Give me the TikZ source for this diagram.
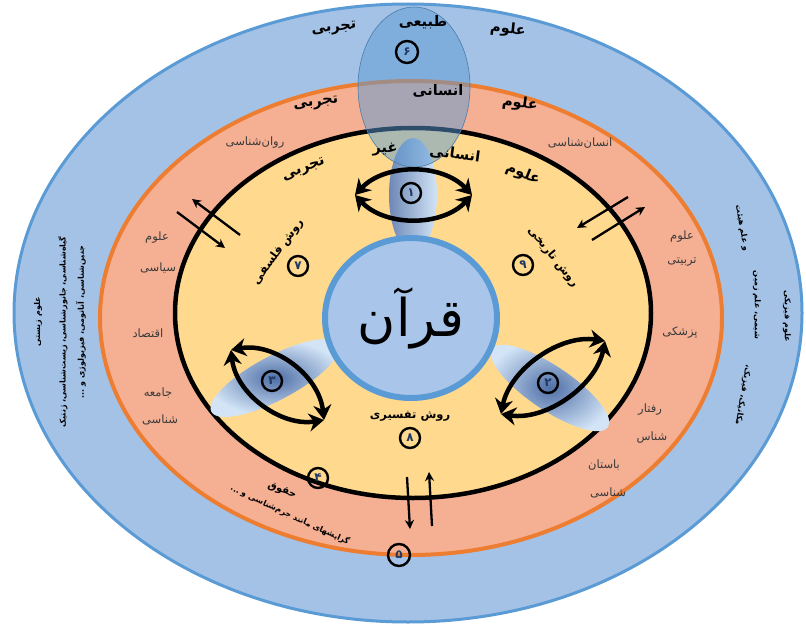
\documentclass[tikz,border=0pt]{standalone}
\usepackage{fontspec}
\usetikzlibrary{arrows.meta,shapes.geometric}
\TeXXeTstate=1
\newfontfamily\fa[Script=Arabic]{DejaVu Sans}
\newcommand{\fatext}[1]{\beginR#1\endR}
\definecolor{outerblue}{HTML}{A4C2E6}
\definecolor{lineblue}{HTML}{5B9BD5}
\definecolor{salmon}{HTML}{F5B094}
\definecolor{orangeline}{HTML}{ED7D31}
\definecolor{yellowfill}{HTML}{FFD98E}
\definecolor{quranfill}{HTML}{A9C6EA}
\definecolor{gdark}{HTML}{2F5597}
\definecolor{glight}{HTML}{D2E4F6}
\definecolor{numblue}{HTML}{203864}
\definecolor{labelgray}{HTML}{3A3A3A}
\begin{document}
\begin{tikzpicture}[x=1pt,y=-1pt,
  titlef/.style={font=\fa\bfseries\fontsize{14.5}{17}\selectfont, inner sep=0pt},
  methodf/.style={font=\fa\bfseries\fontsize{11.5}{14}\selectfont, inner sep=0pt},
  labelf/.style={font=\fa\fontsize{11.5}{14}\selectfont, text=labelgray, inner sep=0pt},
  sidef/.style={font=\fa\bfseries\fontsize{8}{9.5}\selectfont, inner sep=0pt},
  num/.style={circle, draw=black, line width=2.4pt, minimum size=20pt, inner sep=0pt, font=\fa\bfseries\fontsize{12}{14}\selectfont, text=numblue},
  eyearrow/.style={line width=4.5pt, arrows={Stealth[length=15pt,width=18pt]-Stealth[length=15pt,width=18pt]}},
  smallarrow/.style={line width=2.3pt, arrows={-Stealth[length=9pt,width=9pt]}}]
\useasboundingbox (0,0) rectangle (806,626);
\fill[white] (0,0) rectangle (806,626);

% rings
\draw[fill=outerblue, draw=lineblue, line width=3pt] (408,313) ellipse [x radius=394pt, y radius=309pt];
\draw[fill=salmon, draw=orangeline, line width=4pt] (411,318) ellipse [x radius=311pt, y radius=237pt];
\draw[fill=yellowfill, draw=black, line width=4.5pt] (413,313) ellipse [x radius=238pt, y radius=185pt];

% gradient lenses
\shade[left color=gdark!70, right color=glight] (413,195) ellipse [x radius=24pt, y radius=57pt];
\shade[inner color=gdark!85, outer color=glight, rotate around={28:(275,378)}] (275,378) ellipse [x radius=72pt, y radius=22pt];
\shade[inner color=gdark!85, outer color=glight, rotate around={-34:(550,388)}] (550,388) ellipse [x radius=70pt, y radius=22pt];

% Quran circle
\draw[fill=quranfill, draw=lineblue, line width=6pt] (411,318) ellipse [x radius=86pt, y radius=80pt];
\node[font=\fa\fontsize{52}{60}\selectfont, inner sep=0pt] (quran) at (411,318) {\fatext{قرآن}};

% translucent top lens
\draw[fill=lineblue, fill opacity=0.5, draw=lineblue!80!black, line width=0.6pt] (414,87) ellipse [x radius=56pt, y radius=80pt];

% eye arrows 1
\coordinate (e1a) at (355,195);
\coordinate (e1b) at (472,195);
\draw[eyearrow] (e1a) .. controls (385,163) and (442,163) .. (e1b);
\draw[eyearrow] (e1a) .. controls (385,227) and (442,227) .. (e1b);
% eye arrows 3
\coordinate (e3a) at (231,350);
\coordinate (e3b) at (324,420);
\draw[eyearrow] (e3a) .. controls (236,394) and (281,427) .. (e3b);
\draw[eyearrow] (e3a) .. controls (274,342) and (319,375) .. (e3b);
% eye arrows 2
\coordinate (e2a) at (605,341);
\coordinate (e2b) at (501,414);
\draw[eyearrow] (e2a) .. controls (596,386) and (546,421) .. (e2b);
\draw[eyearrow] (e2a) .. controls (560,334) and (510,369) .. (e2b);

% small crossing arrows
\coordinate (ula1) at (240,235); \coordinate (ula2) at (192,199);
\coordinate (ulb1) at (177,212); \coordinate (ulb2) at (225,248);
\draw[smallarrow] (ula1) -- (ula2);
\draw[smallarrow] (ulb1) -- (ulb2);
\coordinate (ura1) at (592,240); \coordinate (ura2) at (645,207);
\coordinate (urb1) at (628,197); \coordinate (urb2) at (577,228);
\draw[smallarrow] (ura1) -- (ura2);
\draw[smallarrow] (urb1) -- (urb2);
\coordinate (bda1) at (407,477); \coordinate (bda2) at (410,529);
\coordinate (bdb1) at (432,526); \coordinate (bdb2) at (429,472);
\draw[smallarrow] (bda1) -- (bda2);
\draw[smallarrow] (bdb1) -- (bdb2);

% number circles
\node[num, minimum size=22pt] (n6) at (407,52) {۶};
\node[num] (n1) at (411,193) {۱};
\node[num] (n2) at (548,383) {۲};
\node[num] (n3) at (272,381) {۳};
\node[num] (n4) at (318,478) {۴};
\node[num, minimum size=22pt] (n5) at (399,555) {۵};
\node[num] (n7) at (298,266) {۷};
\node[num] (n8) at (410,438) {۸};
\node[num] (n9) at (523,265) {۹};

% outer blue title
\node[titlef, rotate=-6] (tb1) at (508,30) {\fatext{علوم}};
\node[titlef] (tb2) at (423,22) {\fatext{طبیعی}};
\node[titlef, rotate=6] (tb3) at (334,29) {\fatext{تجربی}};
% orange ring title
\node[titlef, rotate=-8] (to1) at (520,104) {\fatext{علوم}};
\node[titlef] (to2) at (438,91) {\fatext{انسانی}};
\node[titlef, rotate=8] (to3) at (316,104) {\fatext{تجربی}};
% yellow title
\node[titlef, rotate=-22] (ty1) at (523,174) {\fatext{علوم}};
\node[titlef, rotate=-8] (ty2) at (455,154) {\fatext{انسانی}};
\node[titlef] (ty3) at (385,150) {\fatext{غیر}};
\node[titlef, rotate=22] (ty4) at (304,170) {\fatext{تجربی}};

% methods
\node[methodf, rotate=54] (m7) at (278,252) {\fatext{روش فلسفی}};
\node[methodf, rotate=-51] (m9) at (553,257) {\fatext{روش تاریخی}};
\node[methodf] (m8) at (410,416) {\fatext{روش تفسیری}};

% orange ring labels
\node[labelf] (l1) at (255,143) {\fatext{روان‌شناسی}};
\node[labelf] (l2) at (580,143) {\fatext{انسان‌شناسی}};
\node[labelf] (l3) at (157,238) {\fatext{علوم}};
\node[labelf] (l4) at (158,268) {\fatext{سیاسی}};
\node[labelf] (l5) at (148,333) {\fatext{اقتصاد}};
\node[labelf] (l6) at (158,393) {\fatext{جامعه}};
\node[labelf] (l7) at (160,420) {\fatext{شناسی}};
\node[labelf] (l8) at (682,237) {\fatext{علوم}};
\node[labelf] (l9) at (682,262) {\fatext{تربیتی}};
\node[labelf] (l10) at (680,333) {\fatext{پزشکی}};
\node[labelf] (l11) at (650,410) {\fatext{رفتار}};
\node[labelf] (l12) at (652,438) {\fatext{شناس}};
\node[labelf] (l13) at (604,465) {\fatext{باستان}};
\node[labelf] (l14) at (608,493) {\fatext{شناسی}};

% law
\node[font=\fa\bfseries\fontsize{10}{12}\selectfont, inner sep=0pt, rotate=-20] (law) at (282,491) {\fatext{حقوق}};
\node[sidef, rotate=-25] (law2) at (290,515) {\fatext{گرایشهای مانند جرم‌شناسی و ...}};

% left outer side
\node[sidef, rotate=90] (ls1) at (38,322) {\fatext{علوم زیستی}};
\node[sidef, rotate=90] (ls2) at (63,332) {\fatext{گیاه‌شناسی، جانورشناسی، زیست‌شناسی، ژنتیک}};
\node[sidef, rotate=90] (ls3) at (81,322) {\fatext{جنین‌شناسی، آناتومی، فیزیولوژی و ...}};
% right outer side
\node[sidef, rotate=-90] (rs1) at (787,316) {\fatext{علوم فیزیکی}};
\node[sidef, rotate=-80] (rs2) at (742,228) {\fatext{و علم هیئت}};
\node[sidef, rotate=-90] (rs3) at (757,305) {\fatext{شیمی، علم زمین}};
\node[sidef, rotate=-100] (rs4) at (743,395) {\fatext{مکانیک، فیزیک،}};
\end{tikzpicture}
\end{document}
